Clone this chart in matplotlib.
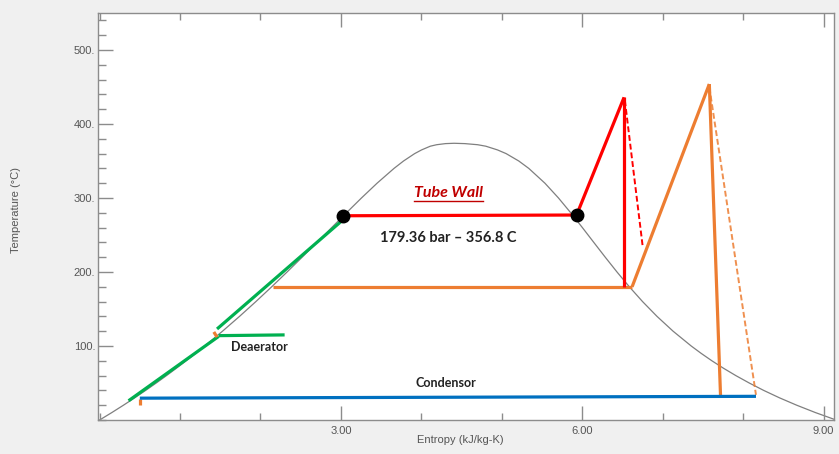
import numpy as np
import matplotlib
matplotlib.use("Agg")
import matplotlib.pyplot as plt
from matplotlib.ticker import MultipleLocator, FixedLocator, FuncFormatter

########
# Data #
########
# saturation dome (steam tables): temperature, s liquid, s vapour
sat_T = [0.01, 10, 20, 30, 40, 50, 60, 70, 80, 90, 100, 120, 140, 160, 180, 200,
         220, 240, 260, 280, 300, 320, 340, 350, 360, 365, 370, 372, 373.5, 373.95]
sat_sf = [0.0000, 0.1511, 0.2965, 0.4368, 0.5724, 0.7038, 0.8313, 0.9551, 1.0756,
          1.1929, 1.3072, 1.5279, 1.7392, 1.9426, 2.1392, 2.3305, 2.5177, 2.7020,
          2.8849, 3.0685, 3.2552, 3.4494, 3.6601, 3.7784, 3.9167, 4.0030, 4.1112,
          4.1900, 4.3000, 4.4070]
sat_sg = [9.1556, 8.8999, 8.6661, 8.4517, 8.2557, 8.0763, 7.9096, 7.7553, 7.6122,
          7.4791, 7.3549, 7.1296, 6.9299, 6.7502, 6.5857, 6.4323, 6.2861, 6.1437,
          6.0019, 5.8571, 5.7049, 5.5362, 5.3356, 5.2111, 5.0536, 4.9460, 4.8012,
          4.7000, 4.5400, 4.4070]

# feed water (green)
green_low_s, green_low_T = [0.36, 1.48], [26, 113]
deaerator_s, deaerator_T = [1.48, 2.30], [114, 115]
green_high_s, green_high_T = [1.46, 3.02], [123, 270]

# high pressure loop (red)
red_evap_s, red_evap_T = [3.03, 5.93], [276, 277]
red_super_s, red_super_T = [5.93, 6.52], [277, 436]
red_vert_s, red_vert_T = [6.52, 6.52], [436, 180]
red_dash_s, red_dash_T = [6.53, 6.75], [432, 236]

# low pressure loop (orange)
orange_evap_s, orange_evap_T = [2.16, 6.62], [180, 180]
orange_super_s, orange_super_T = [6.62, 7.58], [180, 454]
orange_exp_s, orange_exp_T = [7.58, 7.72], [454, 31]
orange_dash_s, orange_dash_T = [7.58, 8.16], [450, 34]
orange_tick1_s, orange_tick1_T = [0.50, 0.50], [20, 28]
orange_tick2_s, orange_tick2_T = [1.42, 1.46], [119, 112]

# condenser (blue)
cond_s, cond_T = [0.50, 8.16], [29.5, 32]

# saturation points
dots_s, dots_T = [3.03, 5.93], [276, 277]

############
# Plotting #
############
GREEN = "#00b050"
RED = "#ff0000"
ORANGE = "#ed7d31"
BLUE = "#0070c0"
AXIS_GREY = "#8c8c8c"
TEXT_GREY = "#555555"
SANS = ["Liberation Sans", "DejaVu Sans"]

fig = plt.figure(figsize=(8.39, 4.54), dpi=100)
fig.patch.set_facecolor("#f0f0f0")
ax = fig.add_axes([98 / 839, 1 - 420 / 454, (834 - 98) / 839, (420 - 13) / 454])
ax.set_facecolor("white")

# dome
dome_s = sat_sf + sat_sg[::-1]
dome_T = sat_T + sat_T[::-1]
ax.plot(dome_s, dome_T, color="#7f7f7f", lw=0.9, zorder=1)

lw = 2.3
ax.plot(green_low_s, green_low_T, color=GREEN, lw=lw, solid_capstyle="butt")
ax.plot(deaerator_s, deaerator_T, color=GREEN, lw=lw, solid_capstyle="butt")
ax.plot(green_high_s, green_high_T, color=GREEN, lw=lw, solid_capstyle="butt")

ax.plot(orange_evap_s, orange_evap_T, color=ORANGE, lw=lw, solid_capstyle="butt")
ax.plot(orange_super_s, orange_super_T, color=ORANGE, lw=lw, solid_capstyle="butt")
ax.plot(orange_exp_s, orange_exp_T, color=ORANGE, lw=lw, solid_capstyle="butt")
ax.plot(orange_dash_s, orange_dash_T, color=ORANGE, lw=1.4, ls=(0, (3, 1.5)), alpha=0.85)
ax.plot(orange_tick1_s, orange_tick1_T, color=ORANGE, lw=lw, solid_capstyle="butt")
ax.plot(orange_tick2_s, orange_tick2_T, color=ORANGE, lw=lw, solid_capstyle="butt")

ax.plot(red_evap_s, red_evap_T, color=RED, lw=lw, solid_capstyle="butt")
ax.plot(red_super_s, red_super_T, color=RED, lw=lw, solid_capstyle="butt")
ax.plot(red_vert_s, red_vert_T, color=RED, lw=lw, solid_capstyle="butt")
ax.plot(red_dash_s, red_dash_T, color=RED, lw=1.4, ls=(0, (3, 1.5)))

ax.plot(cond_s, cond_T, color=BLUE, lw=lw, solid_capstyle="butt")

ax.plot(dots_s, dots_T, "o", color="black", ms=9, zorder=5)

# annotations
lbl_font = ["Lato", "DejaVu Sans"]
tube = ax.text(4.34, 307, "Tube Wall", color="#c00000", fontsize=11.5, fontweight="bold",
               fontstyle="italic", ha="center", va="center", family=lbl_font)
ax.text(4.33, 246, "179.36 bar \u2013 356.8 C", color="#222222", fontsize=10.5,
        fontweight="bold", ha="center", va="center", family=lbl_font)
ax.text(1.99, 99, "Deaerator", color="#222222", fontsize=9, fontweight="bold",
        ha="center", va="center", family=lbl_font)
ax.text(4.30, 50, "Condensor", color="#222222", fontsize=9, fontweight="bold",
        ha="center", va="center", family=lbl_font)

# axes and ticks
ax.set_xlim(-0.02, 9.13)
ax.set_ylim(0, 550)
ax.xaxis.set_major_locator(FixedLocator([3, 6, 9]))
ax.xaxis.set_minor_locator(MultipleLocator(1))
ax.xaxis.set_major_formatter(FuncFormatter(lambda v, p: f"{v:.2f}"))
ax.yaxis.set_major_locator(FixedLocator([100, 200, 300, 400, 500]))
ax.yaxis.set_minor_locator(MultipleLocator(20))
ax.yaxis.set_major_formatter(FuncFormatter(lambda v, p: f"{int(v)}."))

ax.tick_params(axis="x", which="both", direction="in", top=True, bottom=True,
               colors=AXIS_GREY, labelcolor=TEXT_GREY, labelsize=8, pad=4)
ax.tick_params(axis="x", which="major", length=10, width=1)
ax.tick_params(axis="x", which="minor", length=5, width=1)
ax.tick_params(axis="y", which="both", direction="in", left=True, right=False,
               colors=AXIS_GREY, labelcolor=TEXT_GREY, labelsize=8, pad=2)
ax.tick_params(axis="y", which="major", length=11, width=1)
ax.tick_params(axis="y", which="minor", length=6, width=1)
for lab in ax.get_xticklabels() + ax.get_yticklabels():
    lab.set_family(SANS)

for sp in ax.spines.values():
    sp.set_color(AXIS_GREY)
    sp.set_linewidth(1)

ax.set_xlabel("Entropy (kJ/kg-K)", fontsize=8, color=TEXT_GREY, family=SANS)
ax.xaxis.set_label_coords((460 - 98) / 736, -(435 - 420) / 407)
ax.set_ylabel("Temperature (\u00b0C)", fontsize=8, color=TEXT_GREY, family=SANS)
ax.yaxis.set_label_coords(-(98 - 21) / 736, (420 - 210) / 407)

# underline "Tube Wall"
fig.canvas.draw()
bb = tube.get_window_extent().transformed(ax.transData.inverted())
ax.plot([bb.x0, bb.x1], [bb.y0 - 2, bb.y0 - 2], color="#c00000", lw=1)

fig.savefig("out.png", dpi=100, facecolor=fig.get_facecolor())
